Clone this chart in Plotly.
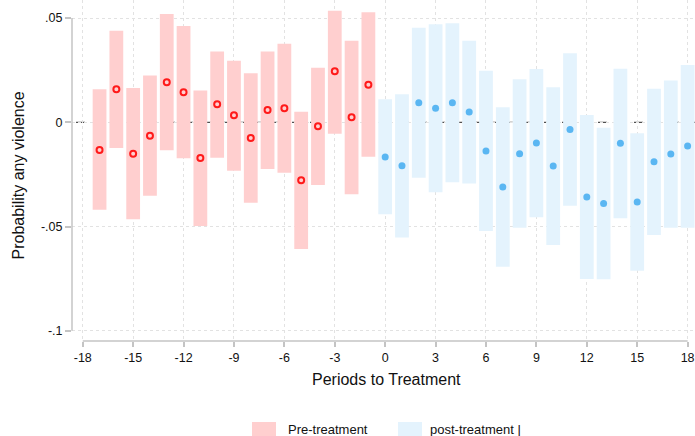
import plotly.graph_objects as go

# Pre-treatment periods
pre_periods = list(range(-17, 0))
pre_coef = [-0.0133, 0.0158, -0.0151, -0.0064, 0.0192, 0.0144, -0.0171, 0.0086, 0.0034,
            -0.0075, 0.0059, 0.0067, -0.0278, -0.0019, 0.0245, 0.0024, 0.0180]
pre_upper = [0.0158, 0.0439, 0.0165, 0.0224, 0.0520, 0.0462, 0.0153, 0.0339, 0.0295,
             0.0235, 0.0340, 0.0377, 0.0051, 0.0262, 0.0535, 0.0391, 0.0528]
pre_lower = [-0.0420, -0.0123, -0.0465, -0.0352, -0.0134, -0.0173, -0.0497, -0.0170, -0.0232,
             -0.0386, -0.0224, -0.0242, -0.0608, -0.0301, -0.0055, -0.0345, -0.0165]

# Post-treatment periods
post_periods = list(range(0, 19))
post_coef = [-0.0166, -0.0208, 0.0094, 0.0067, 0.0094, 0.0049, -0.0138, -0.0310, -0.0151, -0.0099,
             -0.0210, -0.0035, -0.0358, -0.0390, -0.0101, -0.0382, -0.0189, -0.0152, -0.0114]
post_upper = [0.0110, 0.0134, 0.0454, 0.0470, 0.0475, 0.0391, 0.0247, 0.0072, 0.0206, 0.0256,
              0.0168, 0.0331, 0.0035, -0.0026, 0.0257, -0.0053, 0.0161, 0.0201, 0.0275]
post_lower = [-0.0441, -0.0552, -0.0266, -0.0336, -0.0288, -0.0294, -0.0521, -0.0693, -0.0506, -0.0456,
              -0.0588, -0.0400, -0.0752, -0.0753, -0.0460, -0.0712, -0.0540, -0.0506, -0.0506]

x_tickvals = list(range(-18, 19, 3))
x_ticktext = [str(v) for v in x_tickvals]
y_tickvals = [0.05, 0, -0.05, -0.1]
y_ticktext = [".05", "0", "-.05", "-.1"]

PINK = "#ffcfcf"
LBLUE = "#e4f3fd"
RED = "#ff1a1a"
BLUE = "#5ab6f2"
FONT = "Liberation Sans, Arial, sans-serif"

W, H = 695, 436
ML, MR, MT, MB = 72, 0, 0, 95
PW = W - ML - MR
PH = H - MT - MB

def px_x(p):
    return (p - ML) / PW

def px_y(p):
    return (H - MB - p) / PH

fig = go.Figure()

fig.add_trace(go.Bar(
    x=pre_periods, base=pre_lower,
    y=[u - l for u, l in zip(pre_upper, pre_lower)],
    width=0.82, marker=dict(color=PINK, line=dict(width=0)),
    showlegend=False, hoverinfo="skip"))
fig.add_trace(go.Bar(
    x=post_periods, base=post_lower,
    y=[u - l for u, l in zip(post_upper, post_lower)],
    width=0.82, marker=dict(color=LBLUE, line=dict(width=0)),
    showlegend=False, hoverinfo="skip"))

fig.add_trace(go.Scatter(
    x=pre_periods, y=pre_coef, mode="markers",
    marker=dict(symbol="circle-open", size=6, color=RED, line=dict(width=2, color=RED)),
    showlegend=False))
fig.add_trace(go.Scatter(
    x=post_periods, y=post_coef, mode="markers",
    marker=dict(symbol="circle", size=7, color=BLUE),
    showlegend=False))

shapes = []
# zero reference line (below bars)
shapes.append(dict(type="line", xref="paper", yref="y", x0=px_x(76), x1=1, y0=0, y1=0,
                   line=dict(color="#505050", width=1.2, dash="dash"), layer="between"))
# axis lines (Stata style, spanning only tick range)
shapes.append(dict(type="line", xref="x", yref="paper", x0=-18, x1=18, y0=0, y1=0,
                   line=dict(color="#c4c4c4", width=1.5)))
shapes.append(dict(type="line", xref="paper", yref="y", x0=0, x1=0, y0=-0.1, y1=0.05,
                   line=dict(color="#c4c4c4", width=1.5)))
# legend swatches
shapes.append(dict(type="rect", xref="paper", yref="paper",
                   x0=px_x(252), x1=px_x(276), y0=px_y(436), y1=px_y(422),
                   fillcolor=PINK, line=dict(width=0)))
shapes.append(dict(type="rect", xref="paper", yref="paper",
                   x0=px_x(398), x1=px_x(422), y0=px_y(436), y1=px_y(422),
                   fillcolor=LBLUE, line=dict(width=0)))

annotations = [
    dict(text="Periods to Treatment", xref="paper", yref="paper", x=px_x(386), y=px_y(380),
         showarrow=False, font=dict(size=16, color="#111", family=FONT),
         xanchor="center", yanchor="middle"),
    dict(text="Probability any violence", xref="paper", yref="paper", x=px_x(17.5), y=px_y(176),
         showarrow=False, textangle=-90, font=dict(size=16, color="#111", family=FONT),
         xanchor="center", yanchor="middle"),
    dict(text="Pre-treatment", xref="paper", yref="paper", x=px_x(286), y=px_y(429),
         showarrow=False, font=dict(size=13, color="#111", family=FONT),
         xanchor="left", yanchor="middle"),
    dict(text="post-treatment |", xref="paper", yref="paper", x=px_x(428), y=px_y(429),
         showarrow=False, font=dict(size=13, color="#111", family=FONT),
         xanchor="left", yanchor="middle"),
]

fig.update_layout(
    width=W, height=H,
    margin=dict(l=ML, r=MR, t=MT, b=MB),
    paper_bgcolor="white", plot_bgcolor="white",
    barmode="overlay",
    font=dict(family=FONT, size=12.5, color="#111"),
    shapes=shapes, annotations=annotations,
    showlegend=False,
    xaxis=dict(range=[-18.64, 18.44], tickvals=x_tickvals, ticktext=x_ticktext,
               showgrid=True, gridcolor="#e2e2e2", griddash="dot", gridwidth=1,
               zeroline=False, showline=False, ticks="outside", ticklen=5,
               tickcolor="#c4c4c4", tickwidth=1.5, tickfont=dict(size=12.5, color="#111")),
    yaxis=dict(range=[-0.1049, 0.05866], tickvals=y_tickvals, ticktext=y_ticktext,
               showgrid=True, gridcolor="#e2e2e2", griddash="dot", gridwidth=1,
               zeroline=False, showline=False, ticks="outside", ticklen=6,
               tickcolor="#c4c4c4", tickwidth=1.5, tickfont=dict(size=12.5, color="#111")),
)

fig.write_html("out.html")
